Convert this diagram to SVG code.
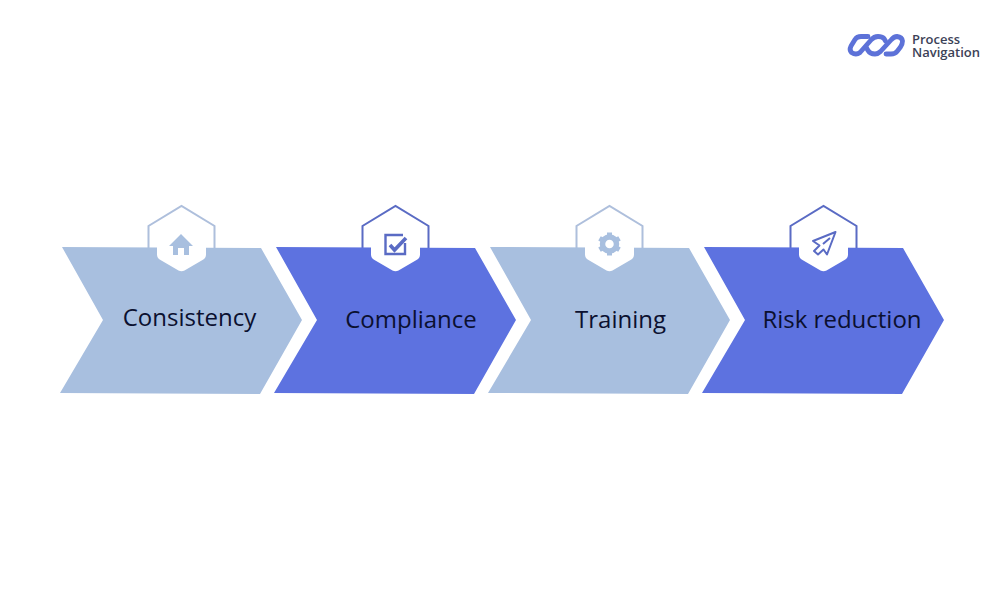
<svg xmlns="http://www.w3.org/2000/svg" width="1000" height="600" viewBox="0 0 1000 600">
<style>
.light{fill:#a8bfdf}.blue{fill:#5d72e0}
.lab{font-family:"Open Sans","Liberation Sans",sans-serif;font-size:24px;fill:#0b1030;text-anchor:middle}
.hexl{fill:none;stroke:#aebfdc;stroke-width:2}.hexb{fill:none;stroke:#5a6bc4;stroke-width:2}
.cap{fill:#fff}
.logo{font-family:"Open Sans","Liberation Sans",sans-serif;font-size:13px;font-weight:600;fill:#3c4257}
</style>
<defs>
<path id="cap" d="M-24.500 0V14.500Q-24.500 18 -21 20L-3 30.500Q0 32 3 30.500L21 20Q24.500 18 24.500 14.500V0Z"/>
</defs>
<rect width="1000" height="600" fill="#fff"/>
<g id="logo">
<g fill="none" stroke="#5d72d8" stroke-width="4.800" stroke-linecap="round" stroke-linejoin="round">
<path d="M868 36.500H861Q857 36.500 855 39.500L851 46Q849 50 851.500 52.500Q856 55.500 860 52.500L871 40Q874 36.500 878 36.500Q882 36.500 884 38.500L885.500 41"/>
<path d="M866 47L868 50.500Q870 54 875 54Q878 54 880.500 51.500L891 40Q894 36.500 897 36.500Q902 37 902.500 41Q902.500 44 900.500 47L897 51.500Q895 54 891 54H886"/>
</g>
<text class="logo" x="912" y="44">Process<tspan x="912" y="57">Navigation</tspan></text>
</g>
<g id="node-consistency">
<path class="hexl" d="M148.500 248V226L181.500 206L214.500 226V248"/>
<path class="light" d="M62 247L261 248L302 320L260 394L60 393L103 320Z"/>
<use href="#cap" class="cap" x="181.500" y="240"/>
<path d="M181 234L193 246H189V255H184V248H178V255H173V246H169Z" fill="#a8bfdf"/>
<text class="lab" x="189.500" y="326">Consistency</text>
</g>
<g id="node-compliance">
<path class="hexb" d="M362.500 248V226L395.500 206L428.500 226V248"/>
<path class="blue" d="M276 247L475 248L516 320L474 394L274 393L317 320Z"/>
<use href="#cap" class="cap" x="395.500" y="240"/>
<path d="M403 235H385.500V254H405V243" fill="none" stroke="#5a6bc4" stroke-width="2.400"/>
<path d="M390 245L394.500 250L406 238" fill="none" stroke="#5a6bc4" stroke-width="3.600"/>
<text class="lab" x="411" y="328">Compliance</text>
</g>
<g id="node-training">
<path class="hexl" d="M576.500 248V226L609.500 206L642.500 226V248"/>
<path class="light" d="M490 247L689 248L730 320L688 394L488 393L531 320Z"/>
<use href="#cap" class="cap" x="609.500" y="240"/>
<circle cx="609.500" cy="244" r="7" fill="none" stroke="#a8bfdf" stroke-width="5.500"/>
<path d="M609.500 232.500V255.500M599.500 238.300L619.500 249.700M599.500 249.700L619.500 238.300" stroke="#a8bfdf" stroke-width="5" fill="none" stroke-dasharray="4 15.200"/>
<text class="lab" x="620.500" y="328">Training</text>
</g>
<g id="node-risk">
<path class="hexb" d="M790.500 248V226L823.500 206L856.500 226V248"/>
<path class="blue" d="M704 247L903 248L944 320L902 394L702 393L745 320Z"/>
<use href="#cap" class="cap" x="823.500" y="240"/>
<path d="M835.500 232L813 241L819.500 245.500L814 251L818 254.500L823.500 249.500L827 254.500ZM823 244L830 238" fill="none" stroke="#5a6bc4" stroke-width="2" stroke-linejoin="round"/>
<text class="lab" x="842" y="328">Risk reduction</text>
</g>
<g id="connectors"></g>
</svg>
